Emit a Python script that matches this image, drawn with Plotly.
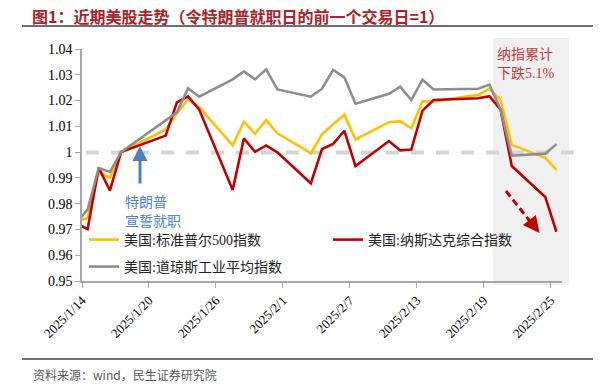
import pandas as pd
import plotly.graph_objects as go

# ---------------- data ----------------
dates = ["2025-01-13", "2025-01-14", "2025-01-15", "2025-01-16", "2025-01-17",
         "2025-01-21", "2025-01-22", "2025-01-23", "2025-01-24",
         "2025-01-27", "2025-01-28", "2025-01-29", "2025-01-30", "2025-01-31",
         "2025-02-03", "2025-02-04", "2025-02-05", "2025-02-06", "2025-02-07",
         "2025-02-10", "2025-02-11", "2025-02-12", "2025-02-13", "2025-02-14",
         "2025-02-18", "2025-02-19", "2025-02-20", "2025-02-21",
         "2025-02-24", "2025-02-25"]

spx = [0.9732, 0.9744, 0.9922, 0.9901, 1.0000,
       1.0088, 1.0150, 1.0204, 1.0174,
       1.0026, 1.0118, 1.0071, 1.0124, 1.0073,
       0.9996, 1.0069, 1.0108, 1.0145, 1.0049,
       1.0116, 1.0120, 1.0092, 1.0197, 1.0197,
       1.0222, 1.0246, 1.0202, 1.0028,
       0.9978, 0.9931]

ndx = [0.9724, 0.9701, 0.9939, 0.9851, 1.0000,
       1.0064, 1.0193, 1.0216, 1.0165,
       0.9853, 1.0053, 1.0001, 1.0026, 0.9999,
       0.9879, 1.0012, 1.0032, 1.0083, 0.9946,
       1.0043, 1.0007, 1.0010, 1.0161, 1.0202,
       1.0209, 1.0217, 1.0165, 0.9946,
       0.9826, 0.9691]

dji = [0.9726, 0.9777, 0.9939, 0.9923, 1.0000,
       1.0124, 1.0154, 1.0248, 1.0215,
       1.0282, 1.0313, 1.0282, 1.0321, 1.0243,
       1.0215, 1.0246, 1.0319, 1.0290, 1.0188,
       1.0226, 1.0254, 1.0202, 1.0281, 1.0243,
       1.0246, 1.0262, 1.0165, 0.9986,
       0.9994, 1.0031]

series_names = ["美国:标准普尔500指数", "美国:纳斯达克综合指数", "美国:道琼斯工业平均指数"]
series_colors = ["#FFC000", "#C00000", "#8E8E8E"]

x_tick_dates = ["2025-01-14", "2025-01-20", "2025-01-26", "2025-02-01",
                "2025-02-07", "2025-02-13", "2025-02-19", "2025-02-25"]
x_tick_text = ["2025/1/14", "2025/1/20", "2025/1/26", "2025/2/1",
               "2025/2/7", "2025/2/13", "2025/2/19", "2025/2/25"]
y_tick_vals = [0.95, 0.96, 0.97, 0.98, 0.99, 1.00, 1.01, 1.02, 1.03, 1.04]
y_tick_text = ["0.95", "0.96", "0.97", "0.98", "0.99", "1", "1.01", "1.02", "1.03", "1.04"]

title_text = "图1：近期美股走势（令特朗普就职日的前一个交易日=1）"
source_text = "资料来源：wind，民生证券研究院"

# ---------------- layout geometry ----------------
# the page body has an 8px margin, so the figure starts at (8, 8) in the window
OFF = 8
WIN_W, WIN_H = 601, 389
FW, FH = WIN_W - OFF, WIN_H - OFF
PL, PR, PT, PB = 82, 562, 49, 281          # plot area in window pixels
PW, PH = PR - PL, PB - PT


def px(x):
    return (x - PL) / PW


def py(y):
    return (PB - y) / PH


# points sit in the middle of each day (Excel date axis, between tick marks)
xd = pd.to_datetime(dates) + pd.Timedelta(hours=12)

fig = go.Figure()
fig.add_trace(go.Scatter(x=xd, y=spx, name=series_names[0], mode="lines",
                         line=dict(color=series_colors[0], width=2.6),
                         legend="legend", showlegend=True))
fig.add_trace(go.Scatter(x=xd, y=ndx, name=series_names[1], mode="lines",
                         line=dict(color=series_colors[1], width=2.6),
                         legend="legend2", showlegend=True))
fig.add_trace(go.Scatter(x=xd, y=dji, name=series_names[2], mode="lines",
                         line=dict(color=series_colors[2], width=2.6),
                         legend="legend3", showlegend=True))

serif = "Times New Roman, Liberation Serif, Noto Sans CJK SC, serif"
cjk = "Noto Sans CJK SC, sans-serif"

shapes = [
    # shaded period
    dict(type="rect", xref="paper", yref="paper", x0=px(493), x1=px(569),
         y0=py(285), y1=py(38), fillcolor="#F0F0F0", line=dict(width=0), layer="below"),
    # y = 1 reference dashed line
    dict(type="line", xref="paper", yref="paper", x0=px(86), x1=px(585),
         y0=py(152.5), y1=py(152.5), line=dict(color="#D4D4D4", width=4, dash="13px,12px"),
         layer="below"),
    # red dashed trend arrow shaft
    dict(type="line", xref="paper", yref="paper", x0=px(506), y0=py(191),
         x1=px(533), y1=py(225), line=dict(color="#C00000", width=3, dash="7px,4px")),
    # title underline and footer line
    dict(type="line", xref="paper", yref="paper", x0=px(22), x1=px(598),
         y0=py(26), y1=py(26), line=dict(color="#404040", width=1.3)),
    dict(type="line", xref="paper", yref="paper", x0=px(22), x1=px(598),
         y0=py(359), y1=py(359), line=dict(color="#404040", width=1.3)),
]

annotations = [
    dict(text="<b>" + title_text + "</b>", xref="paper", yref="paper", x=px(31), y=py(16),
         xanchor="left", yanchor="middle", showarrow=False, borderpad=0,
         font=dict(family=cjk, size=16, color="#A8232A")),
    dict(text=source_text, xref="paper", yref="paper", x=px(31), y=py(374),
         xanchor="left", yanchor="middle", showarrow=False,
         font=dict(family=cjk, size=12, color="#595959")),
    # blue inauguration arrow
    dict(text="", xref="paper", yref="paper", x=px(140), y=py(146), ax=0, ay=39,
         showarrow=True, arrowhead=2, arrowsize=1, arrowwidth=3, arrowcolor="#4F7FBF"),
    dict(text="特朗普", xref="paper", yref="paper", x=px(123), y=py(201),
         xanchor="left", yanchor="middle", showarrow=False,
         font=dict(family=cjk, size=14, color="#4A86C8")),
    dict(text="宣誓就职", xref="paper", yref="paper", x=px(123), y=py(220),
         xanchor="left", yanchor="middle", showarrow=False,
         font=dict(family=cjk, size=14, color="#4A86C8")),
    # red note
    dict(text="纳指累计", xref="paper", yref="paper", x=px(495), y=py(54),
         xanchor="left", yanchor="middle", showarrow=False,
         font=dict(family=serif, size=14, color="#C8383C")),
    dict(text="下跌5.1%", xref="paper", yref="paper", x=px(495), y=py(73),
         xanchor="left", yanchor="middle", showarrow=False,
         font=dict(family=serif, size=14, color="#C8383C")),
    # red arrow head
    dict(text="", xref="paper", yref="paper", x=px(539.5), y=py(233), ax=-7, ay=-9,
         showarrow=True, arrowhead=2, arrowsize=1.1, arrowwidth=3, arrowcolor="#C00000"),
]

legend_font = dict(family=serif, size=14, color="#222")


def legend_box(xpix, ypix):
    return dict(orientation="h", x=px(xpix), y=py(ypix), xanchor="left", yanchor="middle",
                bgcolor="rgba(0,0,0,0)", font=legend_font, visible=True)


axis_col = "#A6A6A6"
fig.update_layout(
    width=FW, height=FH,
    showlegend=True,
    margin=dict(l=PL - OFF, r=WIN_W - PR, t=PT - OFF, b=WIN_H - PB, autoexpand=False),
    paper_bgcolor="white", plot_bgcolor="rgba(0,0,0,0)",
    font=dict(family=serif, size=13, color="#000000"),
    xaxis=dict(type="date", range=["2025-01-14", "2025-02-26"],
               tickvals=pd.to_datetime(x_tick_dates), ticktext=x_tick_text,
               tickangle=-45, ticks="outside", ticklen=5, tickcolor=axis_col,
               showline=True, linecolor=axis_col, linewidth=1.5, showgrid=False,
               zeroline=False, tickfont=dict(family=serif, size=13, color="#000")),
    yaxis=dict(range=[0.95, 1.04], tickvals=y_tick_vals, ticktext=y_tick_text,
               ticks="outside", ticklen=5, tickcolor=axis_col,
               showline=True, linecolor=axis_col, linewidth=1.5, showgrid=False,
               zeroline=False, tickfont=dict(family=serif, size=14, color="#000")),
    legend=legend_box(84, 240),
    legend2=legend_box(328, 240),
    legend3=legend_box(84, 267),
    shapes=shapes, annotations=annotations,
)

fig.write_html("out.html")
